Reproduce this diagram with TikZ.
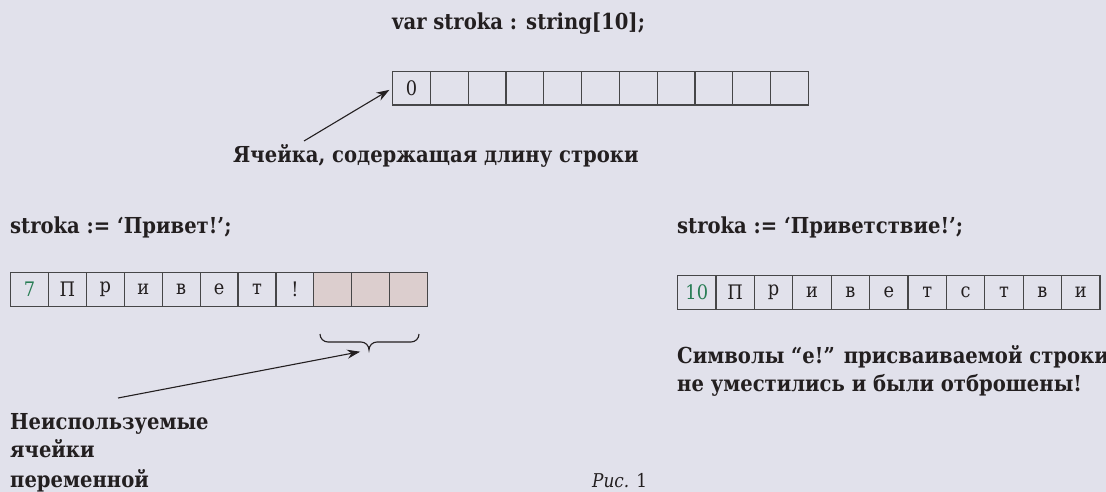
\documentclass[tikz,border=0pt]{standalone}
\usepackage{fontspec}
\setmainfont{DejaVu Serif}[FakeStretch=0.89]
\usetikzlibrary{arrows.meta}
\definecolor{bg}{RGB}{225,225,235}
\definecolor{ink}{RGB}{35,31,32}
\definecolor{grn}{RGB}{40,125,85}
\definecolor{pinkc}{RGB}{220,206,206}
\definecolor{cellline}{RGB}{70,70,72}
\begin{document}
\begin{tikzpicture}[x=1pt,y=-1pt,
  cell/.style={draw=cellline,line width=1.2pt,minimum height=33.5pt,inner sep=0pt,anchor=north west,font=\fontsize{20}{24}\selectfont,text=ink},
  topcell/.style={cell,minimum width=37.8pt},
  lcell/.style={cell,minimum width=37.9pt},
  rcell/.style={cell,minimum width=38.4pt},
  unused/.style={fill=pinkc},
  lenval/.style={text=grn},
  lbl/.style={font=\bfseries\fontsize{22}{26}\selectfont,text=ink,inner sep=0pt,anchor=base west},
  arr/.style={-{Stealth[length=13pt,width=9pt]},line width=1.1pt,draw=ink}]
\fill[bg] (0,0) rectangle (1106,492);
\useasboundingbox (0,0) rectangle (1106,492);

% declaration
\node[lbl] (title) at (392,30) {var stroka : string[10];};
\node[topcell] (t0) at (392,71) {0};
\foreach \i in {1,...,10} \node[topcell] (t\i) at ({392+37.8*\i},71) {};
\node[lbl] (lab1) at (233,163) {Ячейка, содержащая длину строки};
\coordinate (a1tail) at (304,141);
\draw[arr,shorten >=3pt] (a1tail) -- (t0.west);

% left assignment
\node[lbl] (asgn1) at (10,233) {stroka := ‘Привет!’;};
\node[lcell,lenval] (l0) at (10,272) {7};
\foreach \c [count=\i] in {П,р,и,в,е,т,!}
  \node[lcell] (l\i) at ({10+37.9*\i},272) {\c};
\foreach \i in {8,9,10}
  \node[lcell,unused] (l\i) at ({10+37.9*\i},272) {};
\draw[line width=1.1pt,draw=ink] (320,334) to[out=-90,in=180] (328,342) -- (361,342)
   to[out=0,in=90] (369,350) to[out=90,in=180] (377,342) -- (411,342) to[out=0,in=-90] (419,334);
\coordinate (brtip) at (369,350);
\node[lbl] (un1) at (10,429) {Неиспользуемые};
\node[lbl] (un2) at (10,457) {ячейки};
\node[lbl] (un3) at (10,487) {переменной};
\coordinate (a2tail) at (118,398);
\draw[arr,shorten >=9pt] (a2tail) -- (brtip);

% right assignment
\node[lbl] (asgn2) at (677,233) {stroka := ‘Приветствие!’;};
\node[rcell,lenval] (r0) at (677,275) {10};
\foreach \c [count=\i] in {П,р,и,в,е,т,с,т,в,и}
  \node[rcell] (r\i) at ({677+38.4*\i},275) {\c};
\node[lbl] (note1) at (677,363) {Символы “е!” присваиваемой строки};
\node[lbl] (note2) at (677,391) {не уместились и были отброшены!};

% caption
\node[font=\fontsize{19}{23}\selectfont,text=ink,inner sep=0pt,anchor=base west] (fig) at (592,487) {\textit{Рис.} 1};
\end{tikzpicture}
\end{document}
